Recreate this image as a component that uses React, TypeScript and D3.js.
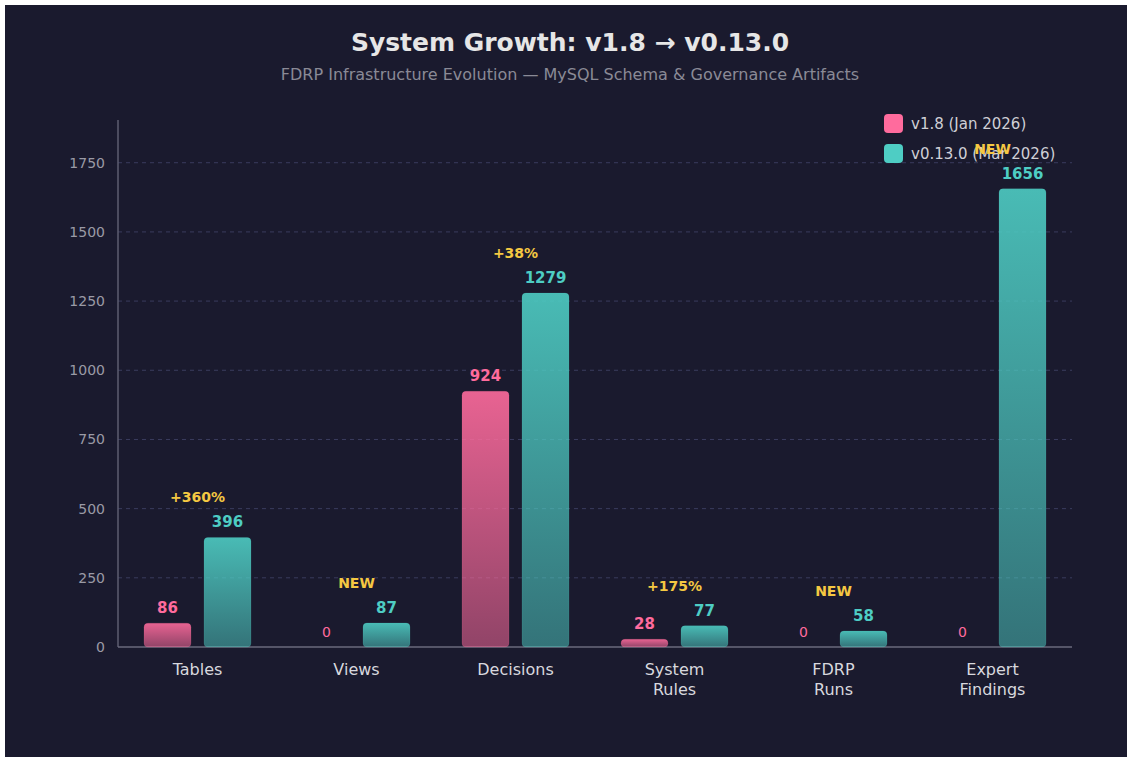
import React from "react";
import * as d3 from "d3";

const categories = ["Tables", "Views", "Decisions", "System Rules", "FDRP Runs", "Expert Findings"];
const categoryLines = [["Tables"], ["Views"], ["Decisions"], ["System", "Rules"], ["FDRP", "Runs"], ["Expert", "Findings"]];
const v18Values = [86, 0, 924, 28, 0, 0];
const v013Values = [396, 87, 1279, 77, 58, 1656];
const changeLabels = ["+360%", "NEW", "+38%", "+175%", "NEW", "NEW"];
const yTicks = [0, 250, 500, 750, 1000, 1250, 1500, 1750];
const seriesNames = ["v1.8 (Jan 2026)", "v0.13.0 (Mar 2026)"];

const PINK = "#ff6b9d";
const TEAL = "#4ecdc4";
const BG = "#1a1a2e";
const FONT = "'DejaVu Sans', Verdana, sans-serif";

export default function App() {
  const W = 1127, H = 757;
  const left = 118, right = 1072, top = 120, bottom = 647;
  const maxV = d3.max(v013Values.concat(v18Values)) as number;
  const x = d3.scaleBand<string>().domain(categories).range([left, right]).padding(0);
  const inner = d3.scaleBand<string>().domain(["a", "b"]).range([26, 133]).paddingInner(13 / 60).paddingOuter(0);
  const y = d3.scaleLinear().domain([0, maxV * 1.15]).range([bottom, top]);
  const bw = inner.bandwidth();

  const bar = (cat: string, key: string, v: number, fill: string, color: string, i: number) => {
    const bx = (x(cat) as number) + (inner(key) as number);
    const cx = bx + bw / 2;
    if (v === 0) {
      return (
        <text key={key + i} x={cx} y={y(0) - 10} textAnchor="middle" fill={color} fontSize={14} fontFamily={FONT}>0</text>
      );
    }
    const h = y(0) - y(v);
    return (
      <g key={key + i}>
        <rect x={bx} y={y(v)} width={bw} height={h} rx={4} ry={4} fill={fill} stroke={color} strokeOpacity={0.15} strokeWidth={1} />
        <text x={cx} y={y(v) - 10} textAnchor="middle" fill={color} fontSize={15} fontWeight="bold" fontFamily={FONT}>{v}</text>
      </g>
    );
  };

  return (
    <div style={{ position: "absolute", left: 0, top: 0, width: W, height: H }}>
      <svg width={W} height={H} style={{ display: "block" }}>
        <defs>
          <linearGradient id="gPink" x1="0" y1="0" x2="0" y2="1">
            <stop offset="0%" stopColor={PINK} stopOpacity={0.9} />
            <stop offset="100%" stopColor={PINK} stopOpacity={0.52} />
          </linearGradient>
          <linearGradient id="gTeal" x1="0" y1="0" x2="0" y2="1">
            <stop offset="0%" stopColor={TEAL} stopOpacity={0.9} />
            <stop offset="100%" stopColor={TEAL} stopOpacity={0.5} />
          </linearGradient>
        </defs>
        <rect x={5} y={5} width={W - 5} height={H - 5} fill={BG} />
        <text x={570} y={51} textAnchor="middle" fill="#e6e6e6" fontSize={25} fontWeight="bold" fontFamily={FONT}>System Growth: v1.8 → v0.13.0</text>
        <text x={570} y={80} textAnchor="middle" fill="#8a8a96" fontSize={16} fontFamily={FONT}>FDRP Infrastructure Evolution — MySQL Schema &amp; Governance Artifacts</text>

        {yTicks.filter((t) => t > 0).map((t) => (
          <line key={"g" + t} x1={left} x2={right} y1={y(t)} y2={y(t)} stroke="#3a3c5e" strokeWidth={1} strokeDasharray="4,4" />
        ))}
        {yTicks.map((t) => (
          <text key={"t" + t} x={105} y={y(t)} dy="0.35em" textAnchor="end" fill="#9a9aa6" fontSize={14} fontFamily={FONT}>{t}</text>
        ))}
        <line x1={left} x2={left} y1={top} y2={bottom} stroke="#5e5e70" strokeWidth={1.5} />
        <line x1={left} x2={right} y1={bottom} y2={bottom} stroke="#6a6a7c" strokeWidth={1.5} />

        {categoryLines.map((lines, i) => (
          <text key={"c" + i} x={(x(categories[i]) as number) + x.bandwidth() / 2} y={669} textAnchor="middle" fill="#d8d8de" fontSize={16} fontFamily={FONT}>
            {lines.map((ln, j) => (
              <tspan key={j} x={(x(categories[i]) as number) + x.bandwidth() / 2} dy={j === 0 ? "0.35em" : 20}>{ln}</tspan>
            ))}
          </text>
        ))}

        <g>
          <rect x={884} y={114} width={19} height={19} rx={4} fill={PINK} />
          <text x={911} y={124} dy="0.35em" fill="#cfcfd6" fontSize={15} fontFamily={FONT}>{seriesNames[0]}</text>
          <rect x={884} y={144} width={19} height={19} rx={4} fill={TEAL} />
          <text x={911} y={154} dy="0.35em" fill="#cfcfd6" fontSize={15} fontFamily={FONT}>{seriesNames[1]}</text>
        </g>

        {categories.map((cat, i) => (
          <g key={"grp" + i}>
            {bar(cat, "a", v18Values[i], "url(#gPink)", PINK, i)}
            {bar(cat, "b", v013Values[i], "url(#gTeal)", TEAL, i)}
            <text x={(x(cat) as number) + x.bandwidth() / 2} y={y(Math.max(v18Values[i], v013Values[i])) - 35} textAnchor="middle" fill="#f5c842" fontSize={14} fontWeight="bold" fontFamily={FONT}>{changeLabels[i]}</text>
          </g>
        ))}
      </svg>
    </div>
  );
}
